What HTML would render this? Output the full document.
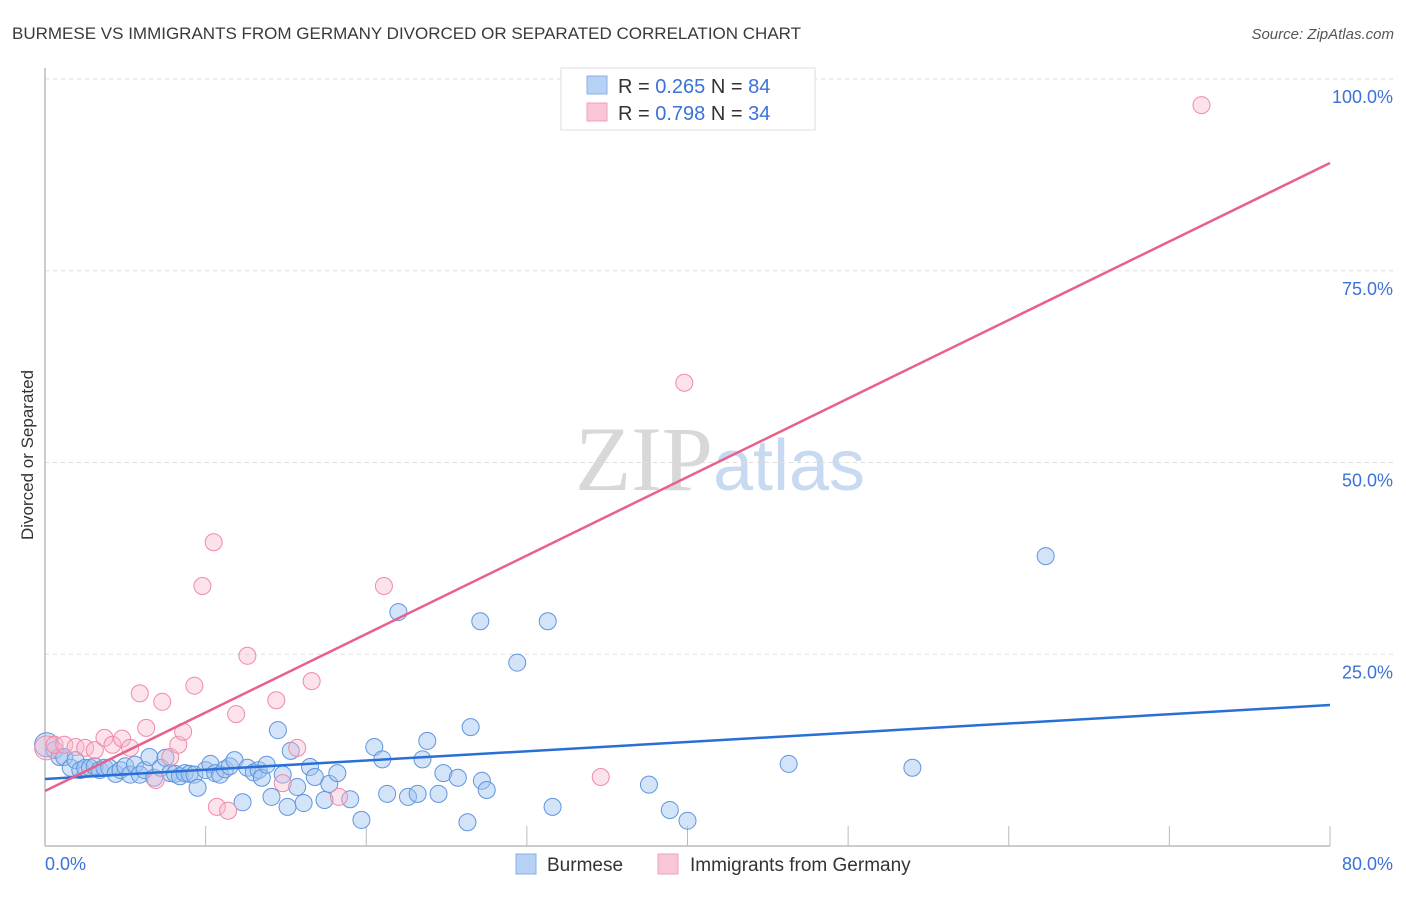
<!DOCTYPE html>
<html><head><meta charset="utf-8"><style>
body{margin:0;background:#fff;font-family:"Liberation Sans",sans-serif;}
svg text{font-family:"Liberation Sans",sans-serif;}
</style></head><body>
<svg id="chart" width="1406" height="892" xmlns="http://www.w3.org/2000/svg">
<text x="12" y="39" font-size="17" fill="#3a3a3a">BURMESE VS IMMIGRANTS FROM GERMANY DIVORCED OR SEPARATED CORRELATION CHART</text>
<text x="1394" y="39" font-size="15" fill="#555" text-anchor="end" font-style="italic">Source: ZipAtlas.com</text>
<text x="720" y="490" font-size="92" text-anchor="middle"><tspan fill="#d8d8d8" font-family="Liberation Serif">ZIP</tspan><tspan fill="#c8daf2" font-size="72">atlas</tspan></text>
<text transform="translate(33,455) rotate(-90)" font-size="17" fill="#333" text-anchor="middle">Divorced or Separated</text>
<g id="grid"></g>
<g id="axes"></g>
<g id="points"></g>
<g id="lines"></g>
<g>
<rect x="561" y="68" width="254" height="62" fill="#fff" stroke="#ddd"/>
<rect x="587" y="76" width="20" height="18" fill="#b7d1f5" stroke="#8ab0e8"/>
<rect x="587" y="103" width="20" height="18" fill="#f8c6d5" stroke="#f0a0ba"/>
<text x="618" y="93" font-size="20" fill="#333">R = <tspan fill="#3a72d8">0.265</tspan>   N = <tspan fill="#3a72d8">84</tspan></text>
<text x="618" y="120" font-size="20" fill="#333">R = <tspan fill="#3a72d8">0.798</tspan>   N = <tspan fill="#3a72d8">34</tspan></text>
</g>
<g>
<rect x="516" y="854" width="20" height="20" fill="#b7d1f5" stroke="#8ab0e8"/>
<text x="547" y="871" font-size="19" fill="#333">Burmese</text>
<rect x="658" y="854" width="20" height="20" fill="#f8c6d5" stroke="#f0a0ba"/>
<text x="690" y="871" font-size="19" fill="#333">Immigrants from Germany</text>
</g>
</svg>
<script>
const xTicks=[0,10,20,30,40,50,60,70,80];
const yTicks=[25,50,75,100];
const yTickLabels=["25.0%","50.0%","75.0%","100.0%"];
const burmeseX=[0.1,0.6,0.9,1.2,1.6,1.9,2.2,2.5,2.8,3.1,3.4,3.7,4.0,4.4,4.7,5.0,5.3,5.6,5.9,6.2,6.5,6.8,7.2,7.5,7.8,8.1,8.4,8.7,9.0,9.3,9.5,10.0,10.3,10.6,10.9,11.2,11.5,11.8,12.3,12.6,13.0,13.3,13.5,13.8,14.1,14.5,14.8,15.1,15.3,15.7,16.1,16.5,16.8,17.4,17.7,18.2,19.0,19.7,20.5,21.0,21.3,22.0,22.6,23.2,23.5,23.8,24.5,24.8,25.7,26.3,26.5,27.1,27.2,27.5,29.4,31.3,31.6,37.6,38.9,40.0,46.3,54.0,62.3];
const burmeseY=[13.2,12.5,11.6,11.6,10.2,11.2,9.9,10.2,10.2,10.4,9.9,10.2,10.2,9.4,9.9,10.4,9.3,10.6,9.3,9.9,11.6,8.9,10.2,11.5,9.5,9.4,9.1,9.5,9.4,9.3,7.6,9.9,10.7,9.5,9.3,10.0,10.4,11.2,5.7,10.2,9.6,9.9,8.9,10.6,6.4,15.1,9.3,5.1,12.4,7.7,5.6,10.3,9.0,6.0,8.1,9.5,6.1,3.4,12.9,11.3,6.8,30.5,6.4,6.8,11.3,13.7,6.8,9.5,8.9,3.1,15.5,29.3,8.5,7.3,23.9,29.3,5.1,8.0,4.7,3.3,10.7,10.2,37.8];
const germanyX=[0.1,0.6,1.2,1.9,2.5,3.1,3.7,4.2,4.8,5.3,6.3,5.9,6.9,7.3,7.8,8.3,8.6,9.3,9.8,10.5,10.7,11.4,11.9,12.6,14.4,14.8,15.7,16.6,18.3,21.1,34.6,39.8,72.0];
const germanyY=[12.8,13.2,13.2,12.9,12.8,12.5,14.1,13.2,14.0,12.8,15.4,19.9,8.6,18.8,11.6,13.2,14.9,20.9,33.9,39.6,5.1,4.6,17.2,24.8,19.0,8.2,12.8,21.5,6.4,33.9,9.0,60.4,96.6];
const burmeseTrend=[8.74,18.38];
const germanyTrend=[7.17,89.05];
const NS="http://www.w3.org/2000/svg";
const X=v=>45+v/80*1285;
const Y=v=>846-v/100*767;
function mk(tag,attrs,parent){const e=document.createElementNS(NS,tag);for(const k in attrs)e.setAttribute(k,attrs[k]);parent.appendChild(e);return e;}
const grid=document.getElementById('grid'),axes=document.getElementById('axes'),pts=document.getElementById('points'),lines=document.getElementById('lines');
yTicks.forEach((t,i)=>{
 const l=mk('line',{x1:45,x2:1394,y1:Y(t),y2:Y(t),stroke:'#ddd','stroke-dasharray':'4,4'},grid);
 
 
 const tx=mk('text',{x:1393,y:Y(t)+24,'font-size':18,fill:'#3a72d8','text-anchor':'end'},axes);
 tx.textContent=yTickLabels[i];
 
 
});
const ax=mk('line',{x1:45,x2:1330,y1:846,y2:846,stroke:'#bbb','stroke-width':1.5},axes);


const ay=mk('line',{x1:45,x2:45,y1:68,y2:846,stroke:'#bbb','stroke-width':1.5},axes);


for(let v=10;v<=80;v+=10){const tk=mk('line',{x1:X(v),x2:X(v),y1:826,y2:846,stroke:'#bbb'},axes);
 
 }
[[0,'0.0%','start',45],[80,'80.0%','end',1393]].forEach(a=>{const t=mk('text',{x:a[3],y:870,'font-size':18,fill:'#3a72d8','text-anchor':a[2]},axes);t.textContent=a[1];
 
 });
burmeseX.forEach((x,i)=>{const c=mk('circle',{cx:X(x),cy:Y(burmeseY[i]),r:i==0?12:8.5,fill:'rgba(160,195,240,0.45)',stroke:'#5f95de','stroke-width':1},pts);
 
 });
germanyX.forEach((x,i)=>{const c=mk('circle',{cx:X(x),cy:Y(germanyY[i]),r:i==0?12:8.5,fill:'rgba(248,185,205,0.4)',stroke:'#ef8aa8','stroke-width':1},pts);
 
 });
const bl=mk('line',{x1:X(0),y1:Y(burmeseTrend[0]),x2:X(80),y2:Y(burmeseTrend[1]),stroke:'#2a6fd6','stroke-width':2.5},lines);


const gl=mk('line',{x1:X(0),y1:Y(germanyTrend[0]),x2:X(80),y2:Y(germanyTrend[1]),stroke:'#e8608c','stroke-width':2.5},lines);


</script>
</body></html>
